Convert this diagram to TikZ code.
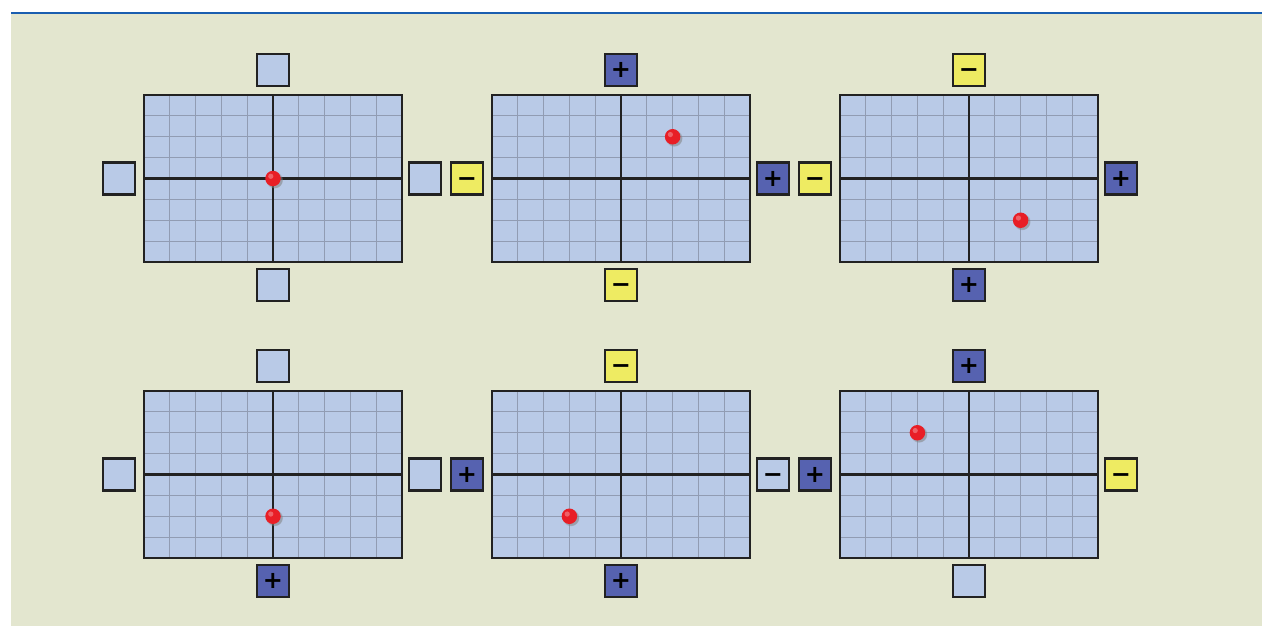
\documentclass[tikz,border=0pt]{standalone}
\usepackage{fontspec}
\newfontfamily\signfont{DejaVu Sans}
\usetikzlibrary{calc,shadows}
\definecolor{bg}{HTML}{E3E6CF}
\definecolor{cell}{HTML}{B9CAE7}
\definecolor{gline}{HTML}{919CB3}
\definecolor{pbl}{HTML}{5662B0}
\definecolor{myel}{HTML}{EEEB62}
\definecolor{topline}{HTML}{1A5EB0}
\definecolor{edge}{HTML}{222222}
\definecolor{dotred}{HTML}{E81E26}
\newcommand\mypanel[3]{%
  \node[boardbox] (#1) at (#2,#3) {};
  \foreach \i in {1,...,9}
    \draw[gridline] ($(#1.north west)!\i/10!(#1.north east)$) -- ($(#1.south west)!\i/10!(#1.south east)$);
  \foreach \i in {1,...,7}
    \draw[gridline] ($(#1.north west)!\i/8!(#1.south west)$) -- ($(#1.north east)!\i/8!(#1.south east)$);
  \draw[axisline] (#1.north) -- (#1.south) (#1.west) -- (#1.east);
  \draw[frameline] (#1.south west) rectangle (#1.north east);
}
\begin{document}
\begin{tikzpicture}[x=1pt,y=-1pt,
  sq/.style={draw=edge,line width=2.2pt,minimum size=32pt,inner sep=0pt,outer sep=0pt,
    font=\signfont\bfseries\fontsize{24}{24}\selectfont},
  sqe/.style={sq,fill=cell},
  sqp/.style={sq,fill=pbl},
  sqy/.style={sq,fill=myel},
  boardbox/.style={fill=cell,minimum width=258pt,minimum height=167pt,inner sep=0pt,outer sep=0pt},
  gridline/.style={draw=gline,line width=1pt},
  axisline/.style={draw=edge,line width=2.7pt},
  frameline/.style={draw=edge,line width=2.7pt},
  reddot/.style={circle,inner sep=0pt,minimum size=15.5pt,fill=dotred,
    circular drop shadow={shadow xshift=1.4pt,shadow yshift=-1.4pt,opacity=0.55},
    path picture={\fill[white,opacity=0.3] ($(path picture bounding box.center)+(-2.2,-2.2)$) circle (2.6pt);}}
]
\useasboundingbox (0,0) rectangle (1262,626);
\fill[white] (0,0) rectangle (1262,626);
\fill[bg] (11,14) rectangle (1262,626);
\fill[topline] (11,11.8) rectangle (1262,14.5);

% boards
\mypanel{b11}{273}{178.5}
\mypanel{b12}{621}{178.5}
\mypanel{b13}{969}{178.5}
\mypanel{b21}{273}{474.5}
\mypanel{b22}{621}{474.5}
\mypanel{b23}{969}{474.5}

% row 1, panel 1
\node[sqe] (t11) at ($(b11.north)+(0,-25)$) {};
\node[sqe] (s11) at ($(b11.south)+(0,23)$) {};
\node[sqe] (l11) at ($(b11.west)+(-25,0)$) {};
\node[sqe] (r11) at ($(b11.east)+(23,0)$) {};
% row 1, panel 2
\node[sqp] (t12) at ($(b12.north)+(0,-25)$) {+};
\node[sqy] (s12) at ($(b12.south)+(0,23)$) {\vphantom{+}−};
\node[sqy] (l12) at ($(b12.west)+(-25,0)$) {\vphantom{+}−};
\node[sqp] (r12) at ($(b12.east)+(23,0)$) {+};
% row 1, panel 3
\node[sqy] (t13) at ($(b13.north)+(0,-25)$) {\vphantom{+}−};
\node[sqp] (s13) at ($(b13.south)+(0,23)$) {+};
\node[sqy] (l13) at ($(b13.west)+(-25,0)$) {\vphantom{+}−};
\node[sqp] (r13) at ($(b13.east)+(23,0)$) {+};
% row 2, panel 1
\node[sqe] (t21) at ($(b21.north)+(0,-25)$) {};
\node[sqp] (s21) at ($(b21.south)+(0,23)$) {+};
\node[sqe] (l21) at ($(b21.west)+(-25,0)$) {};
\node[sqe] (r21) at ($(b21.east)+(23,0)$) {};
% row 2, panel 2
\node[sqy] (t22) at ($(b22.north)+(0,-25)$) {\vphantom{+}−};
\node[sqp] (s22) at ($(b22.south)+(0,23)$) {+};
\node[sqp] (l22) at ($(b22.west)+(-25,0)$) {+};
\node[sqe] (r22) at ($(b22.east)+(23,0)$) {\vphantom{+}−};
% row 2, panel 3
\node[sqp] (t23) at ($(b23.north)+(0,-25)$) {+};
\node[sqe] (s23) at ($(b23.south)+(0,23)$) {};
\node[sqp] (l23) at ($(b23.west)+(-25,0)$) {+};
\node[sqy] (r23) at ($(b23.east)+(23,0)$) {\vphantom{+}−};

% dots
\node[reddot] (d11) at (b11.center) {};
\node[reddot] (d12) at ($(b12.center)+(51.6,-41.75)$) {};
\node[reddot] (d13) at ($(b13.center)+(51.6,41.75)$) {};
\node[reddot] (d21) at ($(b21.center)+(0,41.75)$) {};
\node[reddot] (d22) at ($(b22.center)+(-51.6,41.75)$) {};
\node[reddot] (d23) at ($(b23.center)+(-51.6,-41.75)$) {};
\end{tikzpicture}
\end{document}
